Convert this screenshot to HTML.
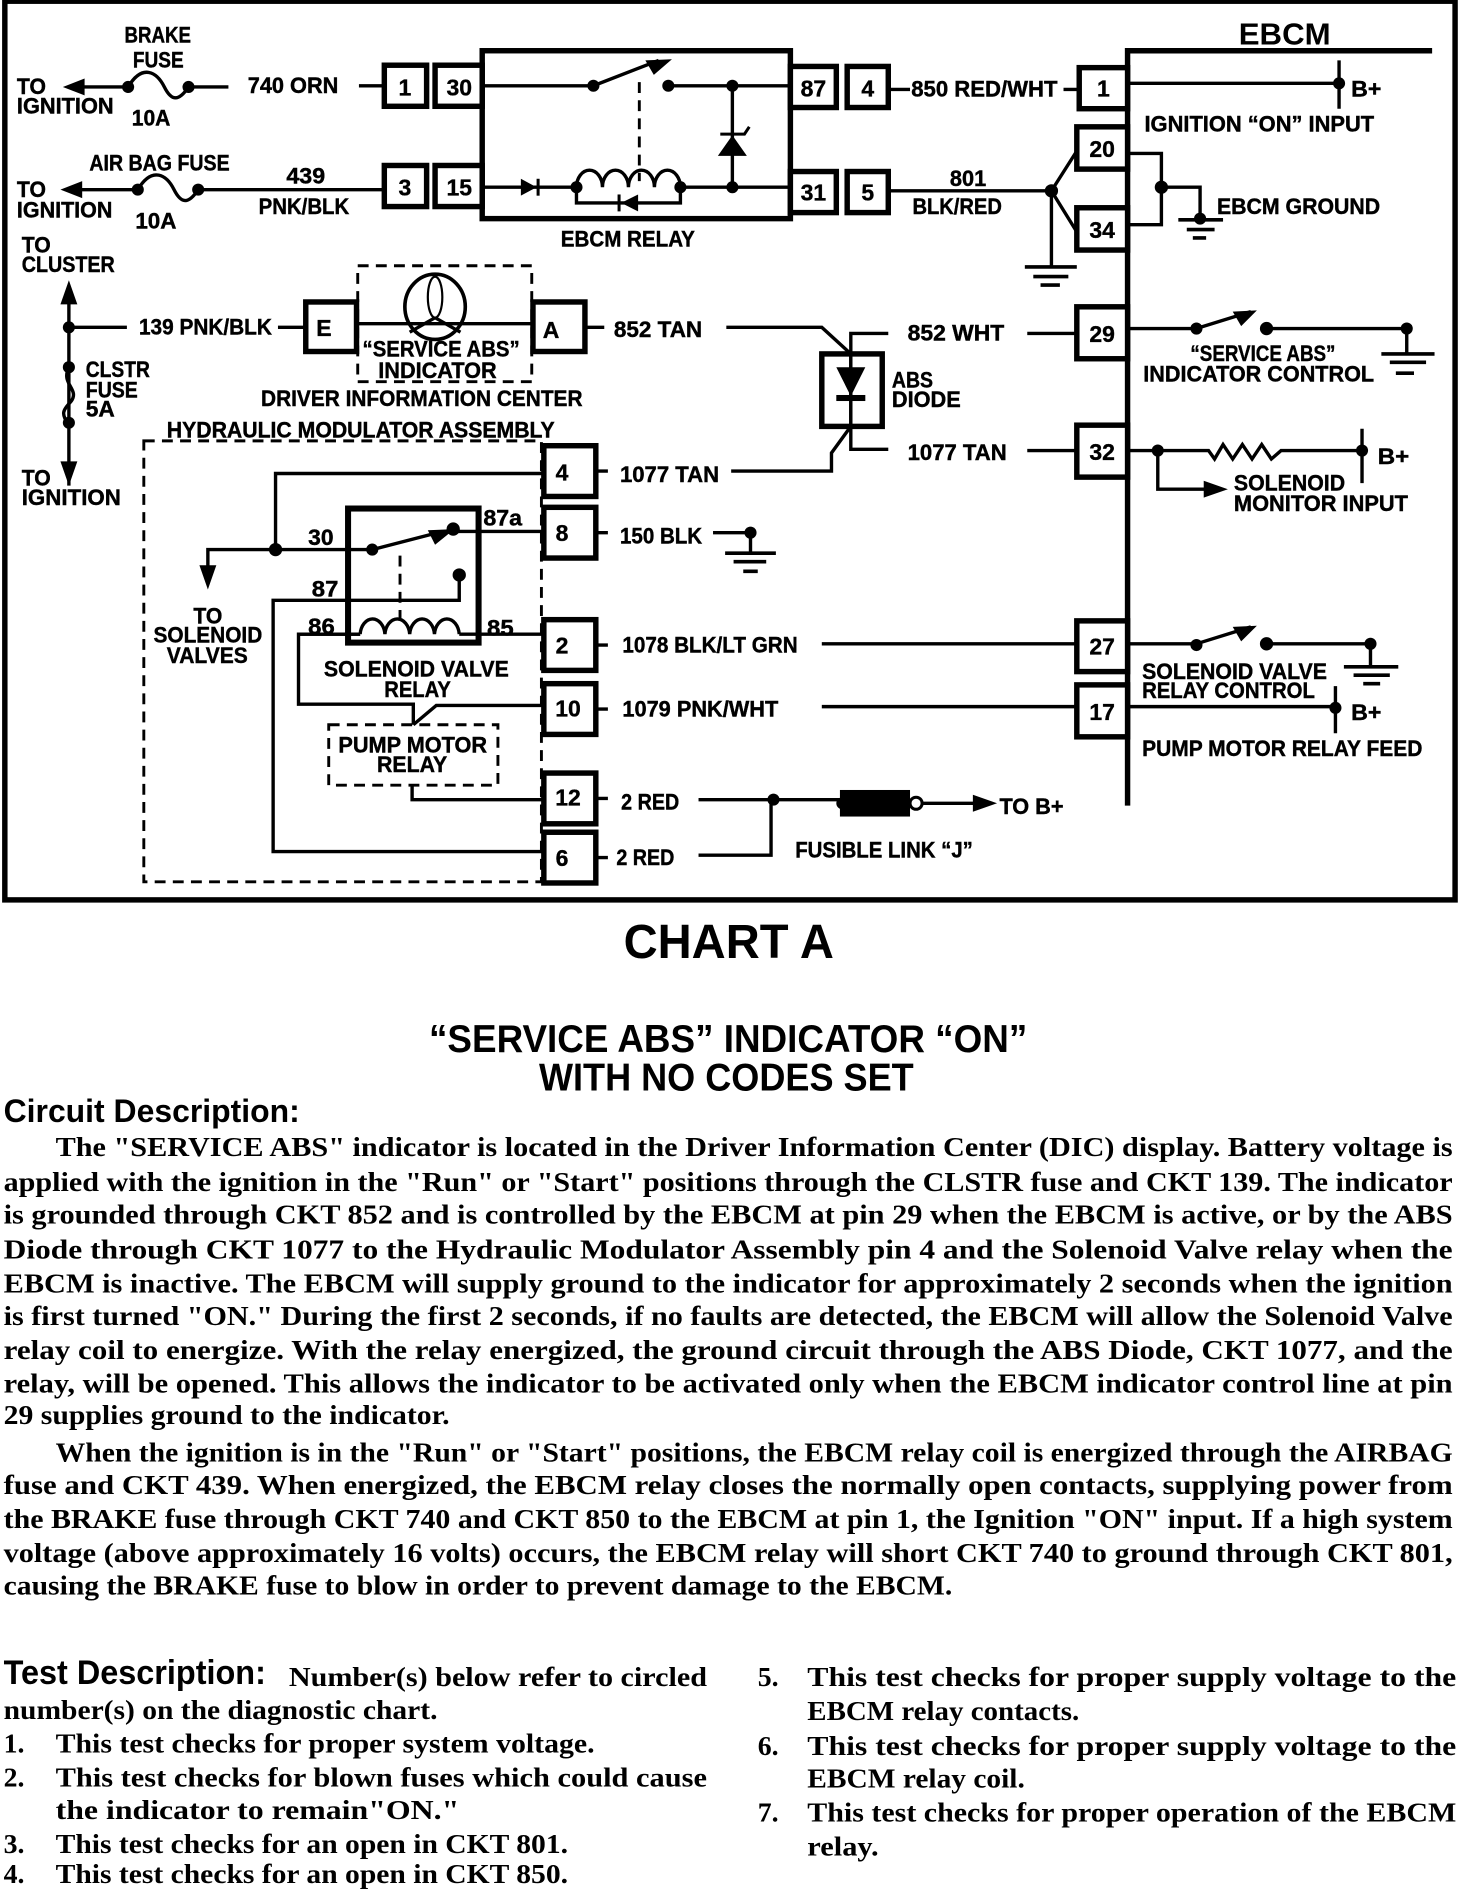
<!DOCTYPE html>
<html><head><meta charset="utf-8"><title>Chart A</title>
<style>
html,body{margin:0;padding:0;background:#fff}
svg{display:block}
.l{font:bold 18px "Liberation Sans",sans-serif;fill:#000;stroke:#000;stroke-width:.35}
.b{font:bold 23px "Liberation Serif",serif;fill:#000}
.n{font:bold 19px "Liberation Sans",sans-serif;fill:#000;text-anchor:middle;stroke:#000;stroke-width:.3}
.h{font:bold 32px "Liberation Sans",sans-serif;fill:#000}
.w{fill:none;stroke:#000;stroke-width:2.8}
.p{fill:#fff;stroke:#000;stroke-width:4.5}
.d{fill:none;stroke:#000;stroke-width:2.4;stroke-dasharray:9 6}
</style></head><body>
<svg width="1472" height="1894" viewBox="0 0 1218 1568" preserveAspectRatio="none" xmlns="http://www.w3.org/2000/svg">
<rect x="4" y="1" width="1200" height="744" fill="none" stroke="#000" stroke-width="4.5"/>

<!-- relay & EBCM -->
<rect x="399" y="42" width="255" height="139" fill="none" stroke="#000" stroke-width="4.5"/>
<path d="M933 667V42H1185" fill="none" stroke="#000" stroke-width="4.5"/>

<!-- wires -->
<g class="w">
<path d="M60 72H106M156 72H189M297 71H317"/>
<path d="M106 72C118 52 130 60 136 72C142 84 148 84 156 72"/>
<path d="M58 157H114M164 157H317"/>
<path d="M114 157C126 137 138 145 144 157C150 169 156 169 164 157"/>
<path d="M399 71H491M491 71L545 50M550 71H654"/>
<path d="M606 71V155"/>
<path d="M399 155H477M563 155H654"/>
<path d="M477 155a10.7 14 0 0 1 21.5 0a10.7 14 0 0 1 21.5 0a10.7 14 0 0 1 21.5 0a10.7 14 0 0 1 21.5 0"/>
<path d="M477 155V168H563V155"/>
<path d="M735 74H753M880 74H892M933 69H1108M1108 50V90"/>
<path d="M735 158H870M870 158L891 125M870 158L891 192M870 158V221"/>
<path d="M933 127H961V186H933M961 155H993V182"/>
<path d="M57 245V402M57 271H105M230 271H253M295 268H441M484 271H500"/>
<path d="M57 304C50 318 66 322 59 332C52 340 50 342 57 352"/>
<path d="M601 271H680L704 293M704 293V276H735M704 293V353M704 353L688 375V390H605M704 353V372H735M850 373H891M850 276H891"/>
<path d="M933 272H990M990 272L1035 258M1048 272H1164M1164 272V293"/>
<path d="M933 373H1000L1005 380L1012 368L1020 380L1028 368L1036 380L1044 368L1052 380L1060 373H1127M1127 355V400M958 373V405H1005"/>
<path d="M933 533H990M990 533L1035 519M1048 533H1134M1134 533V552"/>
<path d="M933 585H1105M1105 568V607"/>
<path d="M680 533H891M680 585H891"/>
<path d="M493 390H503M493 441H503M493 534H503M493 587H503M493 661H503M493 710H503"/>
<path d="M450 392H228V455M172 478V455H308M308 455L366 440M375 440H450"/>
<path d="M380 476V497H226V705H450"/>
<path d="M247 525H298M380 525H450"/>
<path d="M298 525a10.3 14 0 0 1 20.5 0a10.3 14 0 0 1 20.5 0a10.3 14 0 0 1 20.5 0a10.3 14 0 0 1 20.5 0"/>
<path d="M298 525H247V583H342V600M450 584H361L342 600"/>
<path d="M341 650V662H450"/>
<path d="M590 441H621V458"/>
<path d="M578 662H697M578 708H638V662M763 665H815"/>
</g>

<!-- dashed -->
<rect x="296" y="220" width="144" height="96" class="d"/>
<rect x="119" y="365" width="329" height="365" class="d"/>
<rect x="272" y="600" width="140" height="50" class="d"/>
<path d="M529 68V150M331 460V520" class="d"/>

<!-- indicator lamp -->
<ellipse cx="360" cy="254" rx="25" ry="27" fill="none" stroke="#000" stroke-width="3"/>
<ellipse cx="360" cy="246" rx="6" ry="17" fill="none" stroke="#000" stroke-width="1.8"/>
<path d="M360 263L339 275M360 263L381 275" class="w"/>

<!-- pin boxes -->
<g class="p">
<rect x="318" y="54" width="35" height="34"/><rect x="360" y="54" width="39" height="34"/>
<rect x="318" y="137" width="35" height="34"/><rect x="360" y="137" width="39" height="34"/>
<rect x="654" y="55" width="38" height="34"/><rect x="701" y="55" width="34" height="34"/>
<rect x="654" y="142" width="38" height="34"/><rect x="701" y="142" width="34" height="34"/>
<rect x="893" y="56" width="40" height="34"/>
<rect x="891" y="105" width="42" height="35"/><rect x="891" y="172" width="42" height="35"/>
<rect x="891" y="254" width="42" height="43"/><rect x="891" y="352" width="42" height="43"/>
<rect x="891" y="514" width="42" height="42"/><rect x="891" y="567" width="42" height="43"/>
<rect x="253" y="250" width="42" height="41"/><rect x="441" y="250" width="43" height="41"/>
<rect x="450" y="369" width="43" height="42"/><rect x="450" y="420" width="43" height="42"/>
<rect x="450" y="513" width="43" height="42"/><rect x="450" y="566" width="43" height="42"/>
<rect x="450" y="640" width="43" height="42"/><rect x="450" y="689" width="43" height="42"/>
<rect x="680" y="293" width="50" height="60" fill="none"/>
</g>
<path d="M704 293V353" class="w"/>
<rect x="288" y="421" width="108" height="111" fill="none" stroke="#000" stroke-width="5"/>
<rect x="695" y="654" width="58" height="22"/>
<circle cx="758" cy="665" r="5" fill="#fff" stroke="#000" stroke-width="2.5"/>

<!-- grounds -->
<path d="M848 221H891M855 229H884M861 236H877M975 182H1012M982 190H1005M987 197H998M1143 293H1187M1150 300H1180M1155 309H1170M600 458H642M607 465H634M615 473H627M1112 552H1157M1120 559H1150M1128 566H1142" fill="none" stroke="#000" stroke-width="3"/>

<!-- dots -->
<g fill="#000">
<circle cx="106" cy="72" r="5"/><circle cx="156" cy="72" r="5"/><circle cx="114" cy="157" r="5"/><circle cx="164" cy="157" r="5"/>
<circle cx="491" cy="71" r="5"/><circle cx="553" cy="71" r="5"/><circle cx="606" cy="71" r="5"/><circle cx="606" cy="155" r="5"/>
<circle cx="477" cy="155" r="5"/><circle cx="563" cy="155" r="5"/><circle cx="1108" cy="69" r="5"/><circle cx="870" cy="158" r="5.5"/>
<circle cx="961" cy="155" r="5.5"/><circle cx="993" cy="181" r="5"/><circle cx="57" cy="271" r="5"/><circle cx="57" cy="304" r="5"/><circle cx="57" cy="350" r="5"/>
<circle cx="990" cy="272" r="5"/><circle cx="1048" cy="272" r="5.5"/><circle cx="1164" cy="272" r="5"/>
<circle cx="958" cy="373" r="5"/><circle cx="1127" cy="373" r="5"/>
<circle cx="990" cy="534" r="5"/><circle cx="1048" cy="533" r="5.5"/><circle cx="1134" cy="533" r="5"/><circle cx="1105" cy="586" r="5"/>
<circle cx="228" cy="455" r="5.5"/><circle cx="308" cy="455" r="5"/><circle cx="375" cy="438" r="5.5"/><circle cx="380" cy="476" r="5.5"/>
<circle cx="621" cy="441" r="5"/><circle cx="640" cy="662" r="5"/><circle cx="697" cy="665" r="5"/>
<!-- arrowheads -->
<path d="M52 72L70 65V79Z"/><path d="M50 157L68 150V164Z"/>
<path d="M57 232L50 252H64Z"/><path d="M57 402L50 382H64Z"/>
<path d="M172 488L165 468H179Z"/>
<path d="M556 49L534 50L541 62Z"/><path d="M1040 257L1020 258L1027 270Z"/><path d="M1040 518L1020 519L1027 531Z"/><path d="M376 438L354 439L360 451Z"/>
<path d="M1016 405L996 398V412Z"/><path d="M825 665L805 658V672Z"/>
<!-- diodes -->
<path d="M431 148V162L444 155Z"/><rect x="444" y="148" width="2.5" height="14"/>
<path d="M528 161V175L514 168Z"/><rect x="511" y="161" width="2.5" height="14"/>
<path d="M594 129L618 129L606 112Z"/><path d="M596 111L616 111L620 105" fill="none" stroke="#000" stroke-width="2.5"/>
<path d="M692 304H716L704 328Z"/><rect x="692" y="327" width="24" height="5"/>
</g>

<!-- pin numbers -->
<text class="n" x="335" y="79">1</text><text class="n" x="380" y="79">30</text>
<text class="n" x="335" y="162">3</text><text class="n" x="380" y="162">15</text>
<text class="n" x="673" y="80">87</text><text class="n" x="718" y="80">4</text>
<text class="n" x="673" y="166">31</text><text class="n" x="718" y="166">5</text>
<text class="n" x="913" y="80">1</text><text class="n" x="912" y="130">20</text><text class="n" x="912" y="197">34</text>
<text class="n" x="912" y="283">29</text><text class="n" x="912" y="381">32</text><text class="n" x="912" y="542">27</text><text class="n" x="912" y="596">17</text>
<text class="n" x="268" y="278">E</text><text class="n" x="456" y="280">A</text>
<text class="n" x="465" y="398">4</text><text class="n" x="465" y="448">8</text><text class="n" x="465" y="541">2</text><text class="n" x="470" y="593">10</text><text class="n" x="470" y="667">12</text><text class="n" x="465" y="717">6</text>

<!-- diagram labels -->
<text class="l" x="103" y="35" textLength="55" lengthAdjust="spacingAndGlyphs">BRAKE</text>
<text class="l" x="110" y="56" textLength="42" lengthAdjust="spacingAndGlyphs">FUSE</text>
<text class="l" x="14" y="78" textLength="24" lengthAdjust="spacingAndGlyphs">TO</text>
<text class="l" x="14" y="94" textLength="80" lengthAdjust="spacingAndGlyphs">IGNITION</text>
<text class="l" x="109" y="104" textLength="32" lengthAdjust="spacingAndGlyphs">10A</text>
<text class="l" x="205" y="77" textLength="75" lengthAdjust="spacingAndGlyphs">740 ORN</text>
<text class="l" x="74" y="141" textLength="116" lengthAdjust="spacingAndGlyphs">AIR BAG FUSE</text>
<text class="l" x="237" y="152" textLength="32" lengthAdjust="spacingAndGlyphs">439</text>
<text class="l" x="214" y="177" textLength="75" lengthAdjust="spacingAndGlyphs">PNK/BLK</text>
<text class="l" x="14" y="163" textLength="24" lengthAdjust="spacingAndGlyphs">TO</text>
<text class="l" x="14" y="180" textLength="79" lengthAdjust="spacingAndGlyphs">IGNITION</text>
<text class="l" x="112" y="189" textLength="34" lengthAdjust="spacingAndGlyphs">10A</text>
<text class="l" x="464" y="204" textLength="111" lengthAdjust="spacingAndGlyphs">EBCM RELAY</text>
<text class="l" x="18" y="209" textLength="24" lengthAdjust="spacingAndGlyphs">TO</text>
<text class="l" x="18" y="225" textLength="77" lengthAdjust="spacingAndGlyphs">CLUSTER</text>
<text class="l" x="115" y="277" textLength="110" lengthAdjust="spacingAndGlyphs">139 PNK/BLK</text>
<text class="l" x="300" y="295" textLength="130" lengthAdjust="spacingAndGlyphs">“SERVICE ABS”</text>
<text class="l" x="313" y="313" textLength="98" lengthAdjust="spacingAndGlyphs">INDICATOR</text>
<text class="l" x="216" y="336" textLength="266" lengthAdjust="spacingAndGlyphs">DRIVER INFORMATION CENTER</text>
<text class="l" x="71" y="312" textLength="53" lengthAdjust="spacingAndGlyphs">CLSTR</text>
<text class="l" x="71" y="329" textLength="43" lengthAdjust="spacingAndGlyphs">FUSE</text>
<text class="l" x="71" y="345" textLength="24" lengthAdjust="spacingAndGlyphs">5A</text>
<text class="l" x="138" y="362" textLength="321" lengthAdjust="spacingAndGlyphs">HYDRAULIC MODULATOR ASSEMBLY</text>
<text class="l" x="18" y="402" textLength="24" lengthAdjust="spacingAndGlyphs">TO</text>
<text class="l" x="18" y="418" textLength="82" lengthAdjust="spacingAndGlyphs">IGNITION</text>
<text class="l" x="508" y="279" textLength="73" lengthAdjust="spacingAndGlyphs">852 TAN</text>
<text class="l" x="751" y="282" textLength="80" lengthAdjust="spacingAndGlyphs">852 WHT</text>
<text class="l" x="738" y="321" textLength="34" lengthAdjust="spacingAndGlyphs">ABS</text>
<text class="l" x="738" y="337" textLength="57" lengthAdjust="spacingAndGlyphs">DIODE</text>
<text class="l" x="751" y="381" textLength="82" lengthAdjust="spacingAndGlyphs">1077 TAN</text>
<text class="l" x="513" y="399" textLength="82" lengthAdjust="spacingAndGlyphs">1077 TAN</text>
<text class="l" x="513" y="450" textLength="68" lengthAdjust="spacingAndGlyphs">150 BLK</text>
<text class="l" x="515" y="540" textLength="145" lengthAdjust="spacingAndGlyphs">1078 BLK/LT GRN</text>
<text class="l" x="515" y="593" textLength="129" lengthAdjust="spacingAndGlyphs">1079 PNK/WHT</text>
<text class="l" x="514" y="670" textLength="48" lengthAdjust="spacingAndGlyphs">2 RED</text>
<text class="l" x="510" y="716" textLength="48" lengthAdjust="spacingAndGlyphs">2 RED</text>
<text class="l" x="658" y="710" textLength="147" lengthAdjust="spacingAndGlyphs">FUSIBLE LINK “J”</text>
<text class="l" x="827" y="674" textLength="53" lengthAdjust="spacingAndGlyphs">TO B+</text>
<text class="l" x="754" y="80" textLength="121" lengthAdjust="spacingAndGlyphs">850 RED/WHT</text>
<text class="l" x="1118" y="80" textLength="25" lengthAdjust="spacingAndGlyphs">B+</text>
<text class="l" x="947" y="109" textLength="190" lengthAdjust="spacingAndGlyphs">IGNITION “ON” INPUT</text>
<text class="l" x="786" y="154" textLength="30" lengthAdjust="spacingAndGlyphs">801</text>
<text class="l" x="755" y="177" textLength="74" lengthAdjust="spacingAndGlyphs">BLK/RED</text>
<text class="l" x="1007" y="177" textLength="135" lengthAdjust="spacingAndGlyphs">EBCM GROUND</text>
<text class="l" x="985" y="299" textLength="120" lengthAdjust="spacingAndGlyphs">“SERVICE ABS”</text>
<text class="l" x="946" y="316" textLength="191" lengthAdjust="spacingAndGlyphs">INDICATOR  CONTROL</text>
<text class="l" x="1140" y="384" textLength="26" lengthAdjust="spacingAndGlyphs">B+</text>
<text class="l" x="1021" y="406" textLength="92" lengthAdjust="spacingAndGlyphs">SOLENOID</text>
<text class="l" x="1021" y="423" textLength="144" lengthAdjust="spacingAndGlyphs">MONITOR INPUT</text>
<text class="l" x="945" y="562" textLength="153" lengthAdjust="spacingAndGlyphs">SOLENOID VALVE</text>
<text class="l" x="945" y="578" textLength="143" lengthAdjust="spacingAndGlyphs">RELAY CONTROL</text>
<text class="l" x="1118" y="596" textLength="25" lengthAdjust="spacingAndGlyphs">B+</text>
<text class="l" x="945" y="626" textLength="232" lengthAdjust="spacingAndGlyphs">PUMP MOTOR RELAY FEED</text>
<text class="l" x="160" y="516" textLength="24" lengthAdjust="spacingAndGlyphs">TO</text>
<text class="l" x="127" y="532" textLength="90" lengthAdjust="spacingAndGlyphs">SOLENOID</text>
<text class="l" x="138" y="549" textLength="67" lengthAdjust="spacingAndGlyphs">VALVES</text>
<text class="l" x="255" y="451" textLength="21" lengthAdjust="spacingAndGlyphs">30</text>
<text class="l" x="400" y="435" textLength="32" lengthAdjust="spacingAndGlyphs">87a</text>
<text class="l" x="258" y="494" textLength="22" lengthAdjust="spacingAndGlyphs">87</text>
<text class="l" x="255" y="525" textLength="22" lengthAdjust="spacingAndGlyphs">86</text>
<text class="l" x="403" y="526" textLength="22" lengthAdjust="spacingAndGlyphs">85</text>
<text class="l" x="268" y="560" textLength="153" lengthAdjust="spacingAndGlyphs">SOLENOID VALVE</text>
<text class="l" x="318" y="577" textLength="55" lengthAdjust="spacingAndGlyphs">RELAY</text>
<text class="l" x="280" y="623" textLength="123" lengthAdjust="spacingAndGlyphs">PUMP MOTOR</text>
<text class="l" x="312" y="639" textLength="58" lengthAdjust="spacingAndGlyphs">RELAY</text>
<text x="1025" y="37" textLength="76" lengthAdjust="spacingAndGlyphs" style="font:bold 25px 'Liberation Sans',sans-serif">EBCM</text>

<!-- headings -->
<text x="516" y="793" textLength="174" lengthAdjust="spacingAndGlyphs" style="font:bold 40px 'Liberation Sans',sans-serif">CHART A</text>
<text class="h" x="355" y="871" textLength="495" lengthAdjust="spacingAndGlyphs">“SERVICE ABS” INDICATOR “ON”</text>
<text class="h" x="446" y="903" textLength="310" lengthAdjust="spacingAndGlyphs">WITH NO CODES SET</text>
<text x="3" y="929" textLength="245" lengthAdjust="spacingAndGlyphs" style="font:bold 27px 'Liberation Sans',sans-serif">Circuit Description:</text>

<!-- body -->
<text class="b" x="46" y="957" textLength="1156" lengthAdjust="spacingAndGlyphs">The "SERVICE ABS" indicator is located in the Driver Information Center (DIC) display.  Battery voltage is</text>
<text class="b" x="3" y="986" textLength="1199" lengthAdjust="spacingAndGlyphs">applied with the ignition in the "Run" or "Start" positions through the CLSTR fuse and CKT 139.  The indicator</text>
<text class="b" x="3" y="1013" textLength="1199" lengthAdjust="spacingAndGlyphs">is grounded through CKT 852 and is controlled by the EBCM at pin 29 when the EBCM is active, or by the ABS</text>
<text class="b" x="3" y="1042" textLength="1199" lengthAdjust="spacingAndGlyphs">Diode through CKT 1077 to the Hydraulic Modulator Assembly pin 4 and the Solenoid Valve relay when the</text>
<text class="b" x="3" y="1070" textLength="1199" lengthAdjust="spacingAndGlyphs">EBCM is inactive.  The EBCM will supply ground to the indicator for approximately 2 seconds when the ignition</text>
<text class="b" x="3" y="1097" textLength="1199" lengthAdjust="spacingAndGlyphs">is first turned "ON."  During the first 2 seconds, if no faults are detected, the EBCM will allow the Solenoid Valve</text>
<text class="b" x="3" y="1125" textLength="1199" lengthAdjust="spacingAndGlyphs">relay coil to energize.  With the relay energized, the ground circuit through the ABS Diode, CKT 1077, and the</text>
<text class="b" x="3" y="1153" textLength="1199" lengthAdjust="spacingAndGlyphs">relay, will be opened.  This allows the indicator to be activated only when the EBCM indicator control line at pin</text>
<text class="b" x="3" y="1179" textLength="369" lengthAdjust="spacingAndGlyphs">29 supplies ground to the indicator.</text>
<text class="b" x="46" y="1210" textLength="1156" lengthAdjust="spacingAndGlyphs">When the ignition is in the "Run" or "Start" positions, the EBCM relay coil is energized through the AIRBAG</text>
<text class="b" x="3" y="1237" textLength="1199" lengthAdjust="spacingAndGlyphs">fuse and CKT 439.  When energized, the EBCM relay closes the normally open contacts, supplying power from</text>
<text class="b" x="3" y="1265" textLength="1199" lengthAdjust="spacingAndGlyphs">the BRAKE fuse through CKT 740 and CKT 850 to the EBCM at pin 1, the Ignition "ON" input.  If a high system</text>
<text class="b" x="3" y="1293" textLength="1199" lengthAdjust="spacingAndGlyphs">voltage (above approximately 16 volts) occurs, the EBCM relay will short CKT 740 to ground through CKT 801,</text>
<text class="b" x="3" y="1320" textLength="785" lengthAdjust="spacingAndGlyphs">causing the BRAKE fuse to blow in order to prevent damage to the EBCM.</text>

<text x="3" y="1394" textLength="217" lengthAdjust="spacingAndGlyphs" style="font:bold 28px 'Liberation Sans',sans-serif">Test Description:</text>
<text class="b" x="239" y="1396" textLength="346" lengthAdjust="spacingAndGlyphs">Number(s) below refer to circled</text>
<text class="b" x="3" y="1423" textLength="359" lengthAdjust="spacingAndGlyphs">number(s) on the diagnostic chart.</text>
<text class="b" x="3" y="1451">1.</text><text class="b" x="46" y="1451" textLength="446" lengthAdjust="spacingAndGlyphs">This test checks for proper system voltage.</text>
<text class="b" x="3" y="1479">2.</text><text class="b" x="46" y="1479" textLength="539" lengthAdjust="spacingAndGlyphs">This test checks for blown fuses which could cause</text>
<text class="b" x="46" y="1506" textLength="334" lengthAdjust="spacingAndGlyphs">the indicator to remain"ON."</text>
<text class="b" x="3" y="1534">3.</text><text class="b" x="46" y="1534" textLength="424" lengthAdjust="spacingAndGlyphs">This test checks for an open in CKT 801.</text>
<text class="b" x="3" y="1559">4.</text><text class="b" x="46" y="1559" textLength="424" lengthAdjust="spacingAndGlyphs">This test checks for an open in CKT 850.</text>

<text class="b" x="627" y="1396">5.</text><text class="b" x="668" y="1396" textLength="537" lengthAdjust="spacingAndGlyphs">This test checks for proper supply voltage to the</text>
<text class="b" x="668" y="1424" textLength="225" lengthAdjust="spacingAndGlyphs">EBCM relay contacts.</text>
<text class="b" x="627" y="1453">6.</text><text class="b" x="668" y="1453" textLength="537" lengthAdjust="spacingAndGlyphs">This test checks for proper supply voltage to the</text>
<text class="b" x="668" y="1480" textLength="180" lengthAdjust="spacingAndGlyphs">EBCM relay coil.</text>
<text class="b" x="627" y="1508">7.</text><text class="b" x="668" y="1508" textLength="537" lengthAdjust="spacingAndGlyphs">This test checks for proper operation of the EBCM</text>
<text class="b" x="668" y="1536" textLength="59" lengthAdjust="spacingAndGlyphs">relay.</text>
</svg>
</body></html>
